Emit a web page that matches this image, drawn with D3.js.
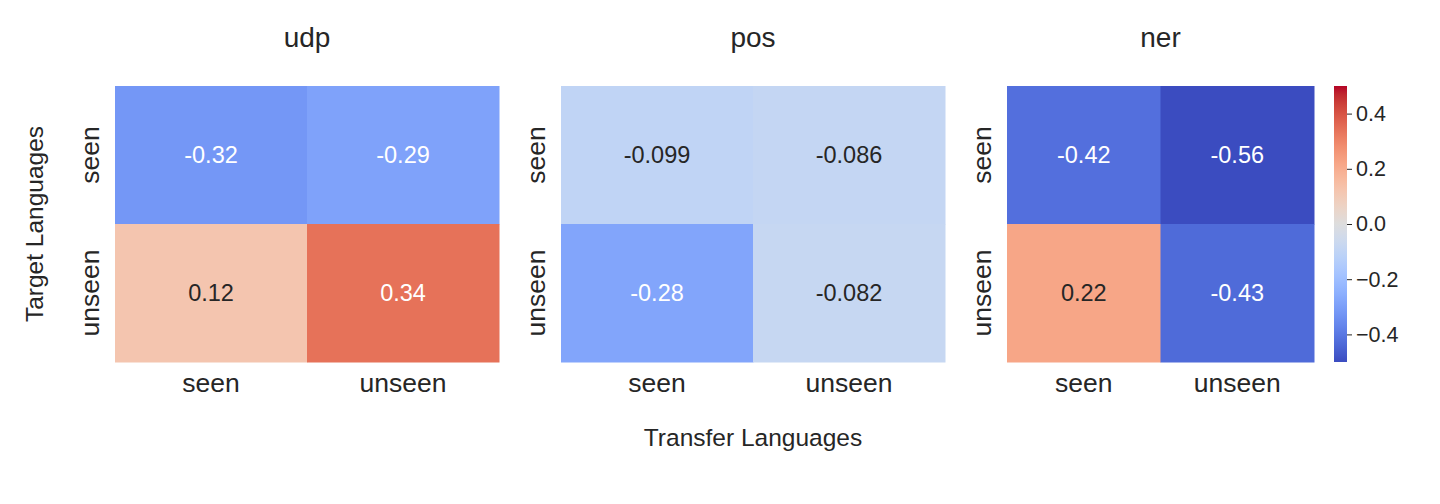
<!DOCTYPE html>
<html>
<head>
<meta charset="utf-8">
<script src="https://cdn.jsdelivr.net/npm/d3@7"></script>
<style>
html,body{margin:0;padding:0;background:#fff;}
svg{display:block;font-family:"Liberation Sans",Arial,sans-serif;}
</style>
</head>
<body>
<svg id="chart" width="1440" height="504"></svg>
<script>
// ---- data ----
const panels = ["udp", "pos", "ner"];
const rowLabels = ["seen", "unseen"];   // Target Languages
const colLabels = ["seen", "unseen"];   // Transfer Languages
const udpValues = [[-0.32, -0.29], [0.12, 0.34]];
const posValues = [[-0.099, -0.086], [-0.28, -0.082]];
const nerValues = [[-0.42, -0.56], [0.22, -0.43]];
const udpText = [["-0.32","-0.29"],["0.12","0.34"]];
const posText = [["-0.099","-0.086"],["-0.28","-0.082"]];
const nerText = [["-0.42","-0.56"],["0.22","-0.43"]];
const colorbarTicks = [-0.4, -0.2, 0.0, 0.2, 0.4];
const vmin = -0.5, vmax = 0.5;

// coolwarm colormap stops
const coolwarm = [
[59,76,192],[68,90,204],[77,104,215],[87,117,225],[98,130,234],[108,142,241],[119,154,247],[130,165,251],
[141,176,254],[152,185,255],[163,194,255],[174,201,253],[184,208,249],[194,213,244],[204,217,238],[213,219,230],
[221,221,221],[229,216,209],[236,211,197],[241,204,185],[245,196,173],[247,187,160],[247,177,148],[247,166,135],
[244,154,123],[241,141,111],[236,127,99],[229,112,88],[222,96,77],[213,80,66],[203,62,56],[192,40,47],[180,4,38]];
const cmapStops = coolwarm.map(c => `rgb(${c[0]},${c[1]},${c[2]})`);
const cmapDomain = coolwarm.map((c,i)=> vmin + (vmax-vmin)*i/(coolwarm.length-1));
const color = d3.scaleLinear().domain(cmapDomain).range(cmapStops).interpolate(d3.interpolateRgb).clamp(true);

function luminance(c){
  const rgb = d3.rgb(c);
  const f = v => { v/=255; return v<=0.03928 ? v/12.92 : Math.pow((v+0.055)/1.055,2.4); };
  return 0.2126*f(rgb.r)+0.7152*f(rgb.g)+0.0722*f(rgb.b);
}

const svg = d3.select("#chart");
const FONT = '"Liberation Sans",Arial,sans-serif';
const dark = "#262626";

const layout = [
  {name:panels[0], values:udpValues, text:udpText, x0:115, x1:499},
  {name:panels[1], values:posValues, text:posText, x0:561, x1:945},
  {name:panels[2], values:nerValues, text:nerText, x0:1007, x1:1314}
];
const y0 = 86, y1 = 362;

layout.forEach(p => {
  const g = svg.append("g");
  const x = d3.scaleBand().domain(colLabels).range([p.x0, p.x1]).padding(0);
  const y = d3.scaleBand().domain(rowLabels).range([y0, y1]).padding(0);
  const cells = [];
  rowLabels.forEach((r, ri) => colLabels.forEach((c, ci) => cells.push({r, c, v:p.values[ri][ci], t:p.text[ri][ci]})));
  g.selectAll("rect").data(cells).enter().append("rect")
    .attr("x", d => x(d.c)).attr("y", d => y(d.r))
    .attr("width", x.bandwidth()+0.5).attr("height", y.bandwidth()+0.5)
    .attr("fill", d => color(d.v));
  g.selectAll("text.ann").data(cells).enter().append("text")
    .attr("class","ann")
    .attr("x", d => x(d.c)+x.bandwidth()/2)
    .attr("y", d => y(d.r)+y.bandwidth()/2 + 8)
    .attr("text-anchor","middle")
    .attr("font-size", 23.5)
    .attr("fill", d => luminance(color(d.v)) > 0.408 ? dark : "#ffffff")
    .text(d => d.t);
  g.selectAll("text.xt").data(colLabels).enter().append("text")
    .attr("class","xt")
    .attr("x", d => x(d)+x.bandwidth()/2).attr("y", 392)
    .attr("text-anchor","middle").attr("font-size", 26.5).attr("fill", dark)
    .text(d => d);
  g.selectAll("text.yt").data(rowLabels).enter().append("text")
    .attr("class","yt")
    .attr("transform", d => `translate(${p.x0-16},${y(d)+y.bandwidth()/2}) rotate(-90)`)
    .attr("text-anchor","middle").attr("font-size", 26.5).attr("fill", dark)
    .text(d => d);
  g.append("text")
    .attr("x", (p.x0+p.x1)/2).attr("y", 47)
    .attr("text-anchor","middle").attr("font-size", 28).attr("fill", dark)
    .text(p.name);
});

svg.append("text").attr("x", 753).attr("y", 446)
  .attr("text-anchor","middle").attr("font-size", 24.5).attr("fill", dark)
  .text("Transfer Languages");
svg.append("text").attr("transform", `translate(43,224) rotate(-90)`)
  .attr("text-anchor","middle").attr("font-size", 24.5).attr("fill", dark)
  .text("Target Languages");

// colorbar
const cbX = 1334, cbW = 13;
const cy = d3.scaleLinear().domain([vmin, vmax]).range([y1, y0]);
const defs = svg.append("defs");
const grad = defs.append("linearGradient").attr("id","cbgrad")
  .attr("x1","0").attr("y1","1").attr("x2","0").attr("y2","0");
grad.selectAll("stop").data(coolwarm).enter().append("stop")
  .attr("offset", (d,i) => i/(coolwarm.length-1))
  .attr("stop-color", (d,i) => cmapStops[i]);
svg.append("rect").attr("x", cbX).attr("y", y0).attr("width", cbW).attr("height", y1-y0)
  .attr("fill","url(#cbgrad)");
const cbAxis = d3.axisRight(cy).tickValues(colorbarTicks).tickSize(5).tickPadding(4)
  .tickFormat(d => d3.format(".1f")(d).replace("-", "\u2212"));
const cbG = svg.append("g").attr("transform", `translate(${cbX+cbW},0)`).call(cbAxis);
cbG.select(".domain").remove();
cbG.selectAll(".tick line").attr("stroke", dark).attr("stroke-width", 1);
cbG.selectAll(".tick text").attr("font-size", 21.5).attr("font-family", FONT).attr("fill", dark);
</script>
</body>
</html>
